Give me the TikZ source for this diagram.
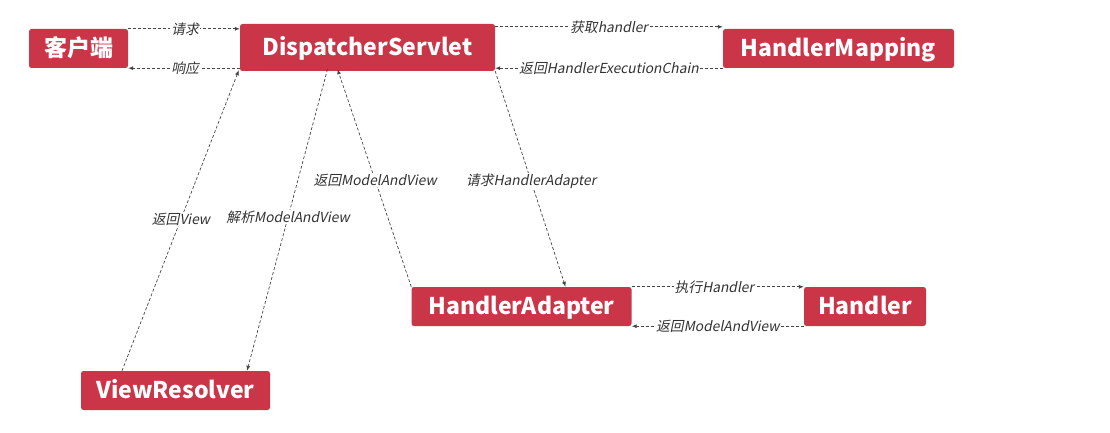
\documentclass[tikz,border=0pt]{standalone}
\usepackage{fontspec}
\setmainfont{Noto Sans CJK SC}
\newfontfamily\lblfont{Noto Sans CJK SC}[FakeSlant=0.2]
\usetikzlibrary{arrows.meta}
\definecolor{boxred}{RGB}{203,53,72}
\definecolor{linegray}{RGB}{70,70,70}
\tikzset{
  box/.style={fill=boxred, rounded corners=2.5pt, text=white, font=\bfseries\fontsize{23}{26}\selectfont, inner sep=0pt, text height=16.6pt, text depth=0pt, anchor=center},
  conn/.style={draw=linegray, line width=0.7pt, dash pattern=on 3pt off 2pt, -{Latex[length=5pt,width=4pt]}},
  lbl/.style={fill=white, inner sep=1pt, text=black!80, font=\lblfont\fontsize{13.8}{16}\selectfont}
}
\begin{document}
\begin{tikzpicture}[x=1pt,y=-1pt]
\useasboundingbox (0,0) rectangle (1110,433);
\node[box, minimum width=99pt, minimum height=39pt] (cl) at (78.5,48.5) {客户端};
\node[box, minimum width=255pt, minimum height=47pt] (ds) at (367.5,47.5) {DispatcherServlet};
\node[box, minimum width=231pt, minimum height=39pt] (hm) at (838.5,48.5) {HandlerMapping};
\node[box, minimum width=220pt, minimum height=39pt] (ha) at (521.5,306.5) {HandlerAdapter};
\node[box, minimum width=122pt, minimum height=39pt] (hd) at (865,306.5) {Handler};
\node[box, minimum width=189pt, minimum height=39pt] (vr) at (175.5,390.5) {ViewResolver};

\draw[conn] (cl.north east) -- node[lbl, pos=0.51] {请求} (cl.north east -| ds.west);
\draw[conn] (ds.west |- cl.south east) -- node[lbl, pos=0.49] {响应} (cl.south east);
\draw[conn] ([yshift=2pt]hm.north west -| ds.east) -- node[lbl, pos=0.5] {获取handler} ([yshift=2pt]hm.north west);
\draw[conn] (hm.south west) -- node[lbl, pos=0.5] {返回HandlerExecutionChain} (hm.south west -| ds.east);
\draw[conn] (ds.south east) -- node[lbl, pos=0.51] {请求HandlerAdapter} ([xshift=44pt]ha.north);
\draw[conn] (ha.north west) -- node[lbl, pos=0.49] {返回ModelAndView} ([xshift=-30pt,yshift=2pt]ds.south);
\draw[conn] ([xshift=-40pt,yshift=2pt]ds.south) -- node[lbl, pos=0.49] {解析ModelAndView} ([xshift=71.5pt]vr.north);
\draw[conn] ([xshift=-53.5pt]vr.north) -- node[lbl, pos=0.505] {返回View} ([xshift=-1pt,yshift=1pt]ds.south west);
\draw[conn] (ha.north east) -- node[lbl, pos=0.48] {执行Handler} (ha.north east -| hd.west);
\draw[conn] (hd.south west) -- node[lbl, pos=0.5] {返回ModelAndView} (hd.south west -| ha.east);
\end{tikzpicture}
\end{document}
